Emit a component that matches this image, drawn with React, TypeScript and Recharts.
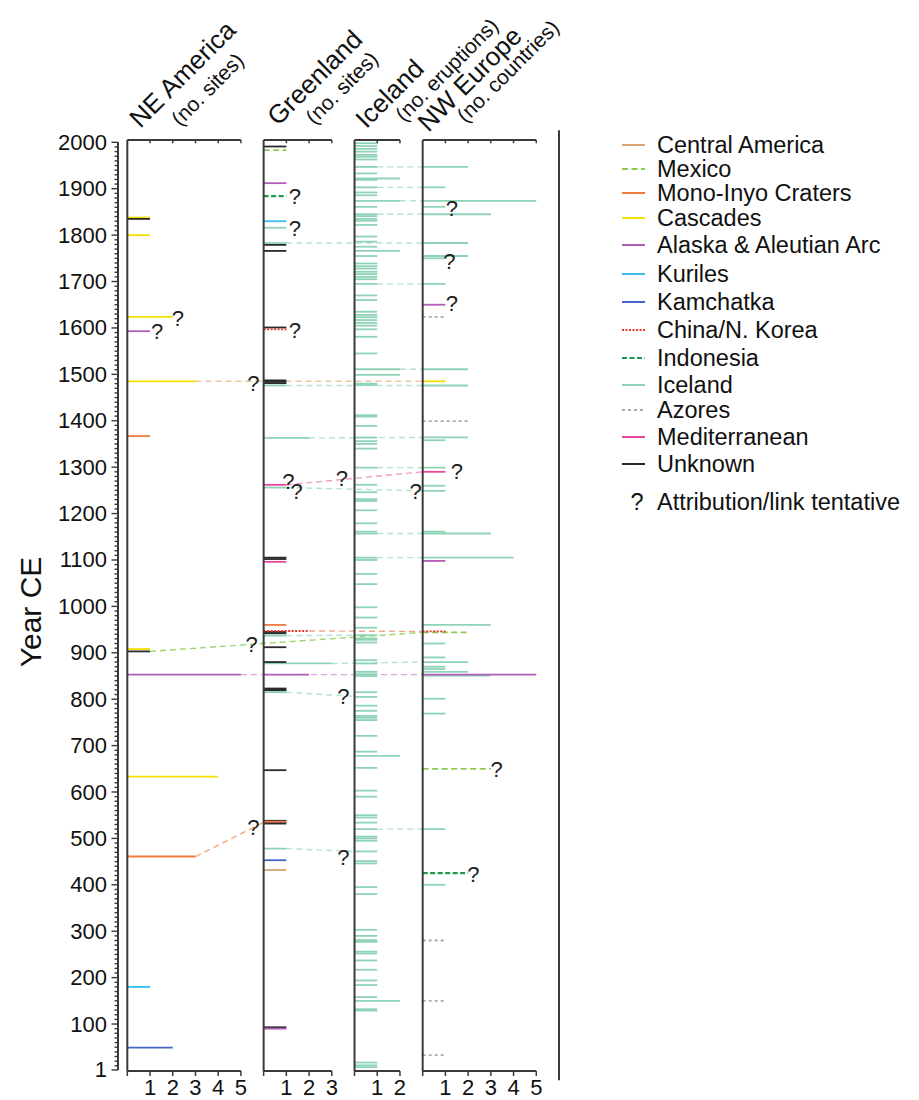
import React from 'react';
import { ComposedChart, XAxis, YAxis, ReferenceLine, ReferenceDot, Scatter } from 'recharts';

// ---------------- DATA ----------------
const panelNames = ['NE America', 'Greenland', 'Iceland', 'NW Europe'];
const panelSubtitles = ['(no. sites)', '(no. sites)', '(no. eruptions)', '(no. countries)'];
const panelMax = [5, 3, 2, 5];

const categoryKeys = ['CA', 'MX', 'MI', 'CS', 'AK', 'KU', 'KA', 'CN', 'ID', 'IC', 'AZ', 'MD', 'UN'];
const categoryNames = [
  'Central America', 'Mexico', 'Mono-Inyo Craters', 'Cascades', 'Alaska & Aleutian Arc', 'Kuriles',
  'Kamchatka', 'China/N. Korea', 'Indonesia', 'Iceland', 'Azores', 'Mediterranean', 'Unknown',
];

type Mark = [number, number, string]; // [year, count, category]

const neAmerica: Mark[] = [
  [1838, 1, 'CS'], [1835, 1, 'UN'], [1800, 1, 'CS'], [1624, 2, 'CS'], [1593, 1, 'AK'], [1485, 3, 'CS'],
  [1367, 1, 'MI'], [908, 1, 'CS'], [903, 1, 'UN'], [853, 5, 'AK'], [633, 4, 'CS'], [461, 3, 'MI'],
  [180, 1, 'KU'], [49, 2, 'KA'],
];

const greenland: Mark[] = [
  [1991, 1, 'UN'], [1983, 1, 'MX'], [1912, 1, 'AK'], [1884, 1, 'ID'], [1830, 1, 'KU'], [1816, 1, 'IC'],
  [1783, 1, 'IC'], [1779, 1, 'UN'], [1766, 1, 'UN'], [1601, 1, 'UN'], [1597, 1, 'CN'], [1487, 1, 'UN'],
  [1484, 1, 'UN'], [1481, 1, 'UN'], [1476, 1, 'IC'], [1363, 2, 'IC'], [1262, 1, 'MD'], [1256, 1, 'IC'],
  [1105, 1, 'UN'], [1102, 1, 'UN'], [1096, 1, 'MD'], [960, 1, 'MI'], [945, 1, 'UN'], [942, 1, 'UN'],
  [947, 2, 'CN'], [937, 1, 'IC'], [912, 1, 'UN'], [877, 3, 'IC'], [880, 1, 'UN'], [853, 2, 'AK'],
  [823, 1, 'UN'], [821, 1, 'UN'], [819, 1, 'UN'], [815, 1, 'IC'], [647, 1, 'UN'], [538, 1, 'UN'],
  [535, 1, 'AK'], [536, 1, 'MI'], [532, 1, 'UN'], [478, 1, 'IC'], [453, 1, 'KA'], [432, 1, 'CA'],
  [93, 1, 'UN'], [90, 1, 'AK'],
];

const iceland: Mark[] = [
  [1998, 1, 'IC'], [1992, 1, 'IC'], [1986, 1, 'IC'], [1980, 1, 'IC'], [1973, 1, 'IC'], [1969, 1, 'IC'],
  [1963, 1, 'IC'], [1947, 1, 'IC'], [1933, 1, 'IC'], [1922, 2, 'IC'], [1919, 1, 'IC'], [1903, 1, 'IC'],
  [1892, 1, 'IC'], [1886, 1, 'IC'], [1874, 2, 'IC'], [1861, 1, 'IC'], [1845, 1, 'IC'], [1841, 1, 'IC'],
  [1835, 1, 'IC'], [1831, 1, 'IC'], [1822, 1, 'IC'], [1797, 1, 'IC'], [1786, 1, 'IC'], [1775, 1, 'IC'],
  [1766, 2, 'IC'], [1755, 1, 'IC'], [1739, 1, 'IC'], [1733, 1, 'IC'], [1728, 1, 'IC'], [1721, 1, 'IC'],
  [1716, 1, 'IC'], [1710, 1, 'IC'], [1705, 1, 'IC'], [1695, 1, 'IC'], [1670, 1, 'IC'], [1660, 1, 'IC'],
  [1635, 1, 'IC'], [1628, 1, 'IC'], [1623, 1, 'IC'], [1617, 1, 'IC'], [1611, 1, 'IC'], [1605, 1, 'IC'],
  [1597, 1, 'IC'], [1581, 1, 'IC'], [1545, 1, 'IC'], [1511, 2, 'IC'], [1499, 2, 'IC'], [1480, 1, 'IC'],
  [1477, 1, 'IC'], [1412, 1, 'IC'], [1409, 1, 'IC'], [1389, 1, 'IC'], [1364, 1, 'IC'], [1356, 1, 'IC'],
  [1350, 1, 'IC'], [1340, 1, 'IC'], [1299, 1, 'IC'], [1262, 1, 'IC'], [1246, 1, 'IC'], [1231, 1, 'IC'],
  [1227, 1, 'IC'], [1207, 1, 'IC'], [1179, 1, 'IC'], [1161, 1, 'IC'], [1157, 1, 'IC'], [1105, 1, 'IC'],
  [1100, 1, 'IC'], [1070, 1, 'IC'], [1048, 1, 'IC'], [998, 1, 'IC'], [976, 1, 'IC'], [954, 1, 'IC'],
  [938, 1, 'IC'], [931, 1, 'IC'], [928, 1, 'IC'], [922, 1, 'IC'], [884, 1, 'IC'], [877, 1, 'IC'],
  [859, 1, 'IC'], [854, 1, 'IC'], [850, 1, 'IC'], [815, 1, 'IC'], [805, 1, 'IC'], [786, 1, 'IC'],
  [775, 1, 'IC'], [764, 1, 'IC'], [760, 1, 'IC'], [755, 1, 'IC'], [721, 1, 'IC'], [687, 1, 'IC'],
  [678, 2, 'IC'], [652, 1, 'IC'], [603, 1, 'IC'], [590, 1, 'IC'], [550, 1, 'IC'], [545, 1, 'IC'],
  [534, 1, 'IC'], [520, 1, 'IC'], [504, 1, 'IC'], [500, 1, 'IC'], [495, 1, 'IC'], [472, 1, 'IC'],
  [451, 1, 'IC'], [446, 1, 'IC'], [395, 1, 'IC'], [380, 1, 'IC'], [303, 1, 'IC'], [290, 1, 'IC'],
  [281, 1, 'IC'], [277, 1, 'IC'], [256, 1, 'IC'], [252, 1, 'IC'], [237, 1, 'IC'], [217, 1, 'IC'],
  [194, 1, 'IC'], [184, 1, 'IC'], [158, 1, 'IC'], [150, 2, 'IC'], [132, 1, 'IC'], [129, 1, 'IC'],
  [17, 1, 'IC'], [11, 1, 'IC'], [7, 1, 'IC'],
];

const nwEurope: Mark[] = [
  [1947, 2, 'IC'], [1903, 1, 'IC'], [1874, 5, 'IC'], [1861, 1, 'IC'], [1845, 3, 'IC'], [1783, 2, 'IC'],
  [1755, 2, 'IC'], [1750, 1, 'IC'], [1695, 1, 'IC'], [1650, 1, 'AK'], [1624, 1, 'AZ'], [1511, 2, 'IC'],
  [1485, 1, 'CS'], [1476, 2, 'IC'], [1399, 2, 'AZ'], [1364, 2, 'IC'], [1358, 1, 'IC'], [1299, 1, 'IC'],
  [1290, 1, 'MD'], [1260, 1, 'IC'], [1249, 1, 'IC'], [1161, 1, 'IC'], [1157, 3, 'IC'], [1105, 4, 'IC'],
  [1098, 1, 'AK'], [960, 3, 'IC'], [944, 2, 'MX'], [946, 1, 'CN'], [920, 1, 'IC'], [890, 1, 'IC'],
  [880, 2, 'IC'], [870, 1, 'IC'], [865, 1, 'IC'], [859, 2, 'IC'], [851, 3, 'IC'], [853, 5, 'AK'],
  [801, 1, 'IC'], [769, 1, 'IC'], [650, 3, 'MX'], [520, 1, 'IC'], [425, 2, 'ID'], [400, 1, 'IC'],
  [280, 1, 'AZ'], [150, 1, 'AZ'], [33, 1, 'AZ'],
];

// links: [fromPanel, fromCount, fromYear, toPanel, toYear, category]
type Link = [number, number, number, number, number, string];
const links: Link[] = [
  [0, 3, 1485, 3, 1485, 'CA'],
  [0, 1, 903, 3, 944, 'MX'],
  [0, 5, 853, 3, 853, 'AK'],
  [0, 3, 461, 1, 535, 'MI'],
  [1, 1, 1783, 3, 1783, 'IC'],
  [1, 1, 1476, 3, 1476, 'IC'],
  [1, 2, 1363, 3, 1364, 'IC'],
  [1, 1, 1262, 3, 1290, 'MD'],
  [1, 1, 1256, 3, 1249, 'IC'],
  [1, 2, 947, 3, 946, 'CN'],
  [1, 1, 937, 2, 938, 'IC'],
  [1, 3, 877, 3, 880, 'IC'],
  [1, 1, 815, 2, 806, 'IC'],
  [1, 1, 478, 2, 472, 'IC'],
  [2, 1, 1947, 3, 1947, 'IC'],
  [2, 1, 1903, 3, 1903, 'IC'],
  [2, 2, 1874, 3, 1874, 'IC'],
  [2, 1, 1845, 3, 1845, 'IC'],
  [2, 1, 1695, 3, 1695, 'IC'],
  [2, 2, 1511, 3, 1511, 'IC'],
  [2, 1, 1299, 3, 1299, 'IC'],
  [2, 1, 1157, 3, 1157, 'IC'],
  [2, 1, 1105, 3, 1105, 'IC'],
  [2, 1, 520, 3, 520, 'IC'],
];

// tentative ("?") markers: [panel, localX, year]
const tentative: [number, number, number][] = [
  [0, 2.23, 1621], [0, 1.31, 1592], [0, 5.55, 1481], [0, 5.47, 917], [0, 5.55, 524],
  [1, 1.38, 1883], [1, 1.38, 1815], [1, 1.38, 1595], [1, 1.09, 1269], [1, 1.45, 1247],
  [1, 3.44, 1276], [1, 6.69, 1247], [1, 3.51, 805], [1, 3.51, 459],
  [3, 1.28, 1858], [3, 1.17, 1743], [3, 1.28, 1653], [3, 1.5, 1290], [3, 3.26, 649], [3, 2.23, 423],
];

const yMajorTicks = [1, 100, 200, 300, 400, 500, 600, 700, 800, 900, 1000, 1100, 1200, 1300, 1400, 1500, 1600, 1700, 1800, 1900, 2000];

// ---------------- STYLE / LAYOUT ----------------
const FONT = '"Liberation Sans", Arial, Helvetica, sans-serif';
const catColor: Record<string, string> = {
  CA: '#D9A472', MX: '#8CCB52', MI: '#F07B3C', CS: '#F2E000', AK: '#B35CB8', KU: '#38BDF0',
  KA: '#4466C6', CN: '#E8362B', ID: '#1E9A4C', IC: '#8ED3B6', AZ: '#A9A9A9', MD: '#E8479B', UN: '#2B2B2B',
};
const catDash: Record<string, string | undefined> = {
  MX: '6 3.5', CN: '2 1.5', ID: '5 2.5', AZ: '3 3',
};
const linkColor: Record<string, string> = {
  CA: '#ECC7A4', MX: '#9BD66A', MI: '#F5A977', AK: '#D7A5DA', CN: '#F3A58A', IC: '#B5E2CF', MD: '#F29BC6',
};
const panelOffset = [0, 6, 10, 13];
const X_MIN = -0.41;
const X_MAX = 19;
const Y_MIN = -1.2;
const Y_MAX = 2005;
const AXIS = '#3a3a3a';
const headerLayout = [
  { main: [55, -66], sub: [80, -51] },
  { main: [51, -62.5], sub: [78, -52.5] },
  { main: [35, -46.5], sub: [92, -70.5] },
  { main: [47, -61], sub: [85, -69] },
];
const legendRowY = [137, 161, 185, 210, 237, 266, 294, 322, 350, 377, 402, 429, 456];

const panelData = [neAmerica, greenland, iceland, nwEurope];

const yTicks: number[] = [1];
for (let v = 10; v <= 2000; v += 10) yTicks.push(v);

const xTicks: number[] = [];
panelMax.forEach((m, p) => {
  for (let i = 0; i <= m; i++) xTicks.push(panelOffset[p] + i);
});

const fmtX = (v: number) => {
  for (let p = panelOffset.length - 1; p >= 0; p--) {
    if (v >= panelOffset[p] - 1e-6) {
      const local = Math.round(v - panelOffset[p]);
      return local === 0 ? '' : String(local);
    }
  }
  return '';
};

const YTick = (props: any) => {
  const { x, y, payload } = props;
  const v = payload.value;
  const major = yMajorTicks.includes(v);
  return (
    <g>
      <line x1={x - (major ? 6.5 : 3.5)} x2={x} y1={y} y2={y} stroke={AXIS} strokeWidth={1.4} />
      {major && (
        <text x={x - 11} y={y} textAnchor="end" dominantBaseline="central" fontSize={22} fill="#111" fontFamily={FONT}>
          {v}
        </text>
      )}
    </g>
  );
};

const QuestionMark = (props: any) => {
  const { cx, cy } = props;
  return (
    <text x={cx} y={cy} textAnchor="middle" dominantBaseline="central" fontSize={22} fill="#222" fontFamily={FONT}>
      ?
    </text>
  );
};

export default function App() {
  const qData = tentative.map(([p, x, y]) => ({ x: panelOffset[p] + x, y }));

  const linkLines = links.map(([fp, fc, fy, tp, ty, cat], i) => (
    <ReferenceLine
      key={`link-${i}`}
      segment={[{ x: panelOffset[fp] + fc, y: fy }, { x: panelOffset[tp], y: ty }]}
      stroke={linkColor[cat] || catColor[cat]}
      strokeWidth={1.4}
      strokeDasharray="6 4"
      ifOverflow="visible"
    />
  ));

  const markLines: React.ReactNode[] = [];
  panelData.forEach((arr, p) => {
    arr.forEach(([year, count, cat], i) => {
      markLines.push(
        <ReferenceLine
          key={`m-${p}-${i}`}
          segment={[{ x: panelOffset[p], y: year }, { x: panelOffset[p] + count, y: year }]}
          stroke={catColor[cat]}
          strokeWidth={cat === 'ID' ? 2.3 : 1.8}
          strokeDasharray={catDash[cat]}
          ifOverflow="visible"
        />,
      );
    });
  });

  const axisLines: React.ReactNode[] = [];
  panelMax.forEach((m, p) => {
    const o = panelOffset[p];
    axisLines.push(
      <ReferenceLine key={`v-${p}`} segment={[{ x: o, y: Y_MIN }, { x: o, y: Y_MAX }]} stroke={AXIS} strokeWidth={2} ifOverflow="visible" />,
      <ReferenceLine key={`t-${p}`} segment={[{ x: o, y: Y_MAX }, { x: o + m, y: Y_MAX }]} stroke={AXIS} strokeWidth={2} ifOverflow="visible" />,
      <ReferenceLine key={`b-${p}`} segment={[{ x: o, y: Y_MIN }, { x: o + m, y: Y_MIN }]} stroke={AXIS} strokeWidth={2} ifOverflow="visible" />,
    );
    for (let i = 1; i <= m; i++) {
      axisLines.push(
        <ReferenceLine key={`tt-${p}-${i}`} segment={[{ x: o + i, y: Y_MAX }, { x: o + i, y: Y_MAX - 7 }]} stroke={AXIS} strokeWidth={1.5} ifOverflow="visible" />,
      );
    }
  });
  axisLines.push(
    <ReferenceLine key="yaxis" segment={[{ x: X_MIN, y: 1 }, { x: X_MIN, y: 2000 }]} stroke={AXIS} strokeWidth={2} ifOverflow="visible" />,
    <ReferenceLine key="right" segment={[{ x: X_MAX, y: 2026 }, { x: X_MAX, y: -21 }]} stroke={AXIS} strokeWidth={2} ifOverflow="visible" />,
  );

  const headers = panelNames.map((name, p) => (
    <ReferenceDot
      key={`h-${p}`}
      x={panelOffset[p]}
      y={Y_MAX}
      r={0}
      ifOverflow="visible"
      shape={(props: any) => {
        const { cx, cy } = props;
        const l = headerLayout[p];
        const mx = cx + l.main[0];
        const my = cy + l.main[1];
        const sx = cx + l.sub[0];
        const sy = cy + l.sub[1];
        return (
          <g>
            <text x={mx} y={my} transform={`rotate(-45 ${mx} ${my})`} textAnchor="middle" dominantBaseline="central" fontSize={26} fill="#111" fontFamily={FONT}>
              {name}
            </text>
            <text x={sx} y={sy} transform={`rotate(-45 ${sx} ${sy})`} textAnchor="middle" dominantBaseline="central" fontSize={21} fill="#111" fontFamily={FONT}>
              {panelSubtitles[p]}
            </text>
          </g>
        );
      }}
    />
  ));

  return (
    <div style={{ position: 'relative', width: 911, height: 1092, fontFamily: FONT }}>
      <ComposedChart width={911} height={1092} margin={{ top: 132, right: 360, bottom: 0, left: 30 }}>
        <XAxis
          type="number"
          dataKey="x"
          domain={[X_MIN, X_MAX]}
          ticks={xTicks}
          interval={0}
          tickFormatter={fmtX}
          axisLine={false}
          tickLine={{ stroke: AXIS, strokeWidth: 1.5 }}
          tickSize={5}
          tickMargin={3}
          height={29}
          tick={{ fontSize: 22, fill: '#111', fontFamily: FONT }}
        />
        <YAxis
          type="number"
          dataKey="y"
          domain={[Y_MIN, Y_MAX]}
          ticks={yTicks}
          interval={0}
          width={80}
          axisLine={false}
          tickLine={false}
          tickSize={0}
          tickMargin={0}
          tick={(p: any) => <YTick {...p} />}
        />
        {linkLines}
        {markLines}
        {axisLines}
        {headers}
        <Scatter data={qData} isAnimationActive={false} shape={(p: any) => <QuestionMark {...p} />} />
      </ComposedChart>
      <svg width={911} height={1092} style={{ position: 'absolute', left: 0, top: 0, pointerEvents: 'none' }}>
        <text x={22} y={604} transform="rotate(-90 22 604)" textAnchor="middle" dominantBaseline="central" fontSize={30} fill="#111" fontFamily={FONT}>
          Year CE
        </text>
        {categoryKeys.map((k, i) => (
          <g key={k}>
            <line x1={614} x2={637} y1={legendRowY[i]} y2={legendRowY[i]} stroke={catColor[k]} strokeWidth={2} strokeDasharray={catDash[k]} />
            <text x={649} y={legendRowY[i]} dominantBaseline="central" fontSize={23.5} fill="#111" fontFamily={FONT}>
              {categoryNames[i]}
            </text>
          </g>
        ))}
        <text x={629} y={494} textAnchor="middle" dominantBaseline="central" fontSize={23.5} fill="#111" fontFamily={FONT}>?</text>
        <text x={649} y={494} dominantBaseline="central" fontSize={23.5} fill="#111" fontFamily={FONT}>
          Attribution/link tentative
        </text>
      </svg>
    </div>
  );
}
